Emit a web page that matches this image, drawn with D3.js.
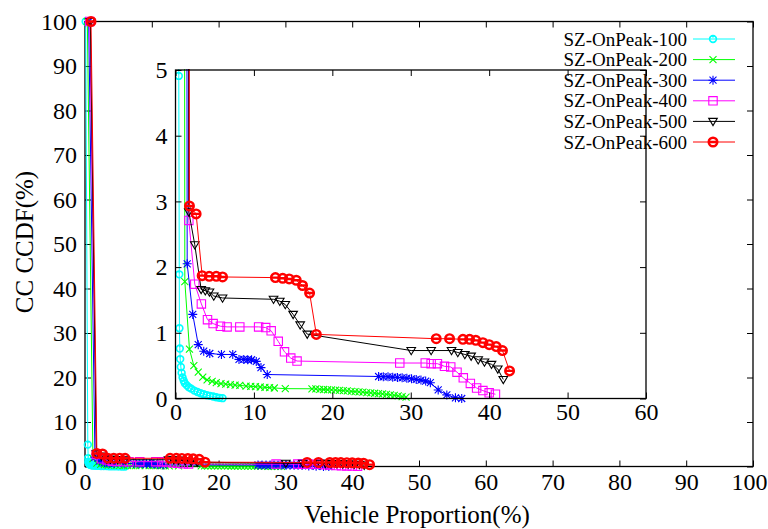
<!DOCTYPE html>
<html>
<head>
<meta charset="utf-8">
<script src="https://cdn.jsdelivr.net/npm/d3@7"></script>
<style>
  body { margin: 0; background: #fff; }
  text { font-family: "Liberation Serif", "Times New Roman", serif; fill: #000; }
</style>
</head>
<body>
<div id="chart"></div>
<script>
  // size of the svg
  var width = 768,
      height = 529;

  // values, [vehicle proportion %, CCDF %]
  var sz100 = [[0.1,100],[0.42,4.91],[0.48,1.89],[0.5,1.07],[0.55,0.76],[0.6,0.6],[0.68,0.48],[0.78,0.39],
    [0.9,0.32],[1.05,0.27],[1.2,0.23],[1.45,0.2],[1.7,0.17],[2.0,0.15],[2.4,0.12],[2.8,0.1],[3.2,0.08],
    [3.6,0.065],[4.0,0.05],[4.4,0.04],[4.8,0.03],[5.2,0.02],[5.6,0.01],[6.0,0.005]];
  var sz200 = [[0.35,100],[1.19,1.78],[1.78,0.75],[2.34,0.5],[2.9,0.4],[3.48,0.325],[4.03,0.285],[4.67,0.26],
    [5.2,0.24],[5.8,0.225],[6.4,0.22],[7.0,0.21],[7.6,0.205],[8.2,0.2],[9.0,0.19],[9.6,0.185],[10.2,0.18],
    [10.8,0.175],[11.4,0.17],[12.0,0.165],[12.6,0.16],[14.0,0.15],[17.4,0.148],[17.9,0.145],[18.4,0.14],
    [18.9,0.137],[19.4,0.133],[19.9,0.13],[20.4,0.127],[20.9,0.123],[21.4,0.12],[21.9,0.115],[22.4,0.11],
    [22.9,0.105],[23.4,0.1],[23.9,0.096],[24.4,0.09],[24.9,0.085],[25.4,0.08],[25.9,0.075],[26.4,0.07],
    [26.9,0.063],[27.4,0.055],[27.9,0.048],[28.4,0.04],[28.9,0.03],[29.4,0.02]];
  var sz300 = [[0.55,100],[1.49,2.05],[2.2,1.28],[2.9,0.82],[3.6,0.72],[4.37,0.685],[5.86,0.67],[7.3,0.67],
    [8.1,0.595],[8.7,0.595],[9.2,0.59],[9.7,0.59],[10.3,0.565],[10.9,0.47],[11.7,0.365],[25.9,0.335],
    [26.5,0.33],[27.1,0.33],[27.7,0.325],[28.3,0.32],[28.9,0.315],[29.5,0.31],[30.1,0.3],[30.7,0.29],
    [31.3,0.28],[31.9,0.265],[32.5,0.24],[33.5,0.13],[34.6,0.055],[35.7,0.01],[36.5,0.0]];
  var sz400 = [[0.7,100],[1.7,2.71],[2.46,1.74],[3.3,1.44],[4.08,1.2],[4.8,1.14],[5.73,1.1],[6.58,1.09],
    [8.2,1.09],[10.6,1.09],[11.5,1.08],[12.2,1.03],[13.1,0.87],[13.9,0.71],[14.7,0.615],[15.5,0.57],
    [28.6,0.54],[31.85,0.54],[32.6,0.53],[33.4,0.53],[34.3,0.49],[35.1,0.48],[35.9,0.4],[36.7,0.315],
    [37.6,0.23],[38.4,0.16],[39.2,0.12],[40.0,0.087],[40.8,0.065]];
  var sz500 = [[0.8,100],[1.7,2.84],[2.46,2.34],[3.27,1.66],[3.8,1.64],[4.33,1.62],[4.88,1.56],[6.0,1.53],
    [12.5,1.51],[13.3,1.48],[14.0,1.43],[15.0,1.28],[15.9,1.12],[16.8,0.98],[30.06,0.73],[32.6,0.73],
    [35.2,0.73],[36.0,0.7],[36.9,0.67],[37.7,0.645],[38.6,0.59],[39.4,0.555],[40.3,0.52],[41.1,0.45],[41.8,0.29]];
  var sz600 = [[0.9,100],[1.78,2.93],[2.63,2.81],[3.4,1.87],[4.3,1.86],[5.2,1.86],[6.0,1.85],[12.74,1.84],
    [13.67,1.83],[14.5,1.82],[15.4,1.8],[16.2,1.72],[17.1,1.605],[17.96,0.976],[33.25,0.91],[34.95,0.91],
    [36.65,0.9],[37.5,0.9],[38.3,0.885],[39.2,0.85],[40.0,0.82],[40.9,0.79],[41.7,0.73],[42.6,0.42]];

  var seriesNames = ["SZ-OnPeak-100", "SZ-OnPeak-200", "SZ-OnPeak-300", "SZ-OnPeak-400", "SZ-OnPeak-500", "SZ-OnPeak-600"];
  var seriesData = [sz100, sz200, sz300, sz400, sz500, sz600];
  var colors = ["#00ffff", "#00ff00", "#0000ff", "#ff00ff", "#000000", "#ff0000"];
  var markers = ["circle", "times", "star", "square", "triangle", "bigcircle"];

  var mainXTicks = [0, 10, 20, 30, 40, 50, 60, 70, 80, 90, 100];
  var mainYTicks = [0, 10, 20, 30, 40, 50, 60, 70, 80, 90, 100];
  var insetXTicks = [0, 10, 20, 30, 40, 50, 60];
  var insetYTicks = [0, 1, 2, 3, 4, 5];

  var svg = d3.select("#chart").append("svg")
      .attr("width", width)
      .attr("height", height);

  // main plot scales
  var x = d3.scaleLinear().domain([0, 100]).range([85, 753]);
  var y = d3.scaleLinear().domain([0, 100]).range([466.5, 21.5]);

  // inset scales
  var ix = d3.scaleLinear().domain([0, 60]).range([175.5, 646]);
  var iy = d3.scaleLinear().domain([0, 5]).range([398.5, 70]);

  // draws one marker shape centred on 0,0
  function markerPath(type) {
    var p = d3.path();
    if (type == "times") {
      p.moveTo(-3.5, -3.5); p.lineTo(3.5, 3.5);
      p.moveTo(-3.5, 3.5); p.lineTo(3.5, -3.5);
    } else if (type == "star") {
      p.moveTo(-3.5, -3.5); p.lineTo(3.5, 3.5);
      p.moveTo(-3.5, 3.5); p.lineTo(3.5, -3.5);
      p.moveTo(-4.5, 0); p.lineTo(4.5, 0);
      p.moveTo(0, -4.5); p.lineTo(0, 4.5);
    } else if (type == "square") {
      p.rect(-4.2, -4.2, 8.4, 8.4);
    } else if (type == "triangle") {
      p.moveTo(-4.3, -3); p.lineTo(4.3, -3); p.lineTo(0, 4.2); p.closePath();
    } else if (type == "circle") {
      p.arc(0, 0, 3.4, 0, 2 * Math.PI);
      p.moveTo(0, -3.4); p.lineTo(0, -1.6);
    } else {
      p.arc(0, 0, 4.3, 0, 2 * Math.PI);
      p.moveTo(-4.3, 0); p.lineTo(4.3, 0);
    }
    return p.toString();
  }

  function strokeWidth(type) {
    if (type == "bigcircle") return 2.4;
    if (type == "circle") return 1.6;
    return 1.1;
  }

  // draws every series into group g with the given scales
  function drawSeries(g, xs, ys) {
    var line = d3.line().x(function(d) { return xs(d[0]); }).y(function(d) { return ys(d[1]); });
    seriesData.forEach(function(data, i) {
      g.append("path")
        .attr("d", line(data))
        .attr("fill", "none")
        .attr("stroke", colors[i])
        .attr("stroke-width", 1);
      g.selectAll(".m" + i)
        .data(data)
        .enter()
      .append("path")
        .attr("class", "m" + i)
        .attr("transform", function(d) { return "translate(" + xs(d[0]) + "," + ys(d[1]) + ")"; })
        .attr("d", markerPath(markers[i]))
        .attr("fill", "none")
        .attr("stroke", colors[i])
        .attr("stroke-width", strokeWidth(markers[i]));
    });
  }

  // axes with inward ticks on all four sides
  function drawAxes(g, xs, ys, xt, yt, xPad, yPad) {
    var x0 = xs.range()[0], x1 = xs.range()[1];
    var y0 = ys.range()[0], y1 = ys.range()[1];
    var fmt = d3.format("d");
    g.append("g").attr("class", "xaxis").attr("transform", "translate(0," + y0 + ")")
      .call(d3.axisBottom(xs).tickValues(xt).tickFormat(fmt).tickSizeInner(-6).tickSizeOuter(0).tickPadding(xPad));
    g.append("g").attr("transform", "translate(0," + y1 + ")")
      .call(d3.axisTop(xs).tickValues(xt).tickSizeInner(-6).tickSizeOuter(0).tickFormat(""));
    g.append("g").attr("transform", "translate(" + x0 + ",0)")
      .call(d3.axisLeft(ys).tickValues(yt).tickFormat(fmt).tickSizeInner(-6).tickSizeOuter(0).tickPadding(yPad));
    g.append("g").attr("transform", "translate(" + x1 + ",0)")
      .call(d3.axisRight(ys).tickValues(yt).tickSizeInner(-6).tickSizeOuter(0).tickFormat(""));
    g.selectAll(".domain").remove();
    g.selectAll(".tick line").attr("stroke", "#000");
    g.selectAll(".tick text")
      .style("font-family", '"Liberation Serif", serif')
      .style("font-size", "24px")
      .attr("fill", "#000");
    g.append("rect")
      .attr("x", x0).attr("y", y1)
      .attr("width", x1 - x0).attr("height", y0 - y1)
      .attr("fill", "none")
      .attr("stroke", "#000")
      .attr("stroke-width", 1.3);
  }

  // main plot
  var mainG = svg.append("g");
  drawAxes(mainG, x, y, mainXTicks, mainYTicks, 6, 8);
  // last label sits at the page edge, nudge it in
  mainG.selectAll(".xaxis .tick text").filter(function(d) { return d == 100; }).attr("dx", -4);
  drawSeries(mainG.append("g"), x, y);

  // inset plot
  var insetG = svg.append("g");
  insetG.append("rect")
    .attr("x", ix.range()[0]).attr("y", iy.range()[1])
    .attr("width", ix.range()[1] - ix.range()[0])
    .attr("height", iy.range()[0] - iy.range()[1])
    .attr("fill", "#fff");
  svg.append("clipPath").attr("id", "insetClip")
    .append("rect")
    .attr("x", ix.range()[0]).attr("y", iy.range()[1] - 1)
    .attr("width", ix.range()[1] - ix.range()[0] + 6)
    .attr("height", iy.range()[0] - iy.range()[1] + 6);
  drawSeries(insetG.append("g").attr("clip-path", "url(#insetClip)"), ix, iy);
  drawAxes(insetG, ix, iy, insetXTicks, insetYTicks, 4, 8);

  // axis titles
  svg.append("text")
    .attr("x", 417).attr("y", 523)
    .attr("text-anchor", "middle")
    .style("font-size", "25px")
    .text("Vehicle Proportion(%)");
  svg.append("text")
    .attr("transform", "translate(33,242) rotate(-90)")
    .attr("text-anchor", "middle")
    .style("font-size", "25px")
    .text("CC CCDF(%)");

  // legend
  var legend = svg.append("g");
  seriesNames.forEach(function(name, i) {
    var ly = 39 + i * 20.6;
    legend.append("text")
      .attr("x", 687).attr("y", ly + 6.5)
      .attr("text-anchor", "end")
      .style("font-size", "19px")
      .text(name);
    legend.append("line")
      .attr("x1", 693).attr("x2", 735)
      .attr("y1", ly).attr("y2", ly)
      .attr("stroke", colors[i])
      .attr("stroke-width", 1);
    legend.append("path")
      .attr("transform", "translate(713," + ly + ")")
      .attr("d", markerPath(markers[i]))
      .attr("fill", "none")
      .attr("stroke", colors[i])
      .attr("stroke-width", strokeWidth(markers[i]));
  });
</script>
</body>
</html>
